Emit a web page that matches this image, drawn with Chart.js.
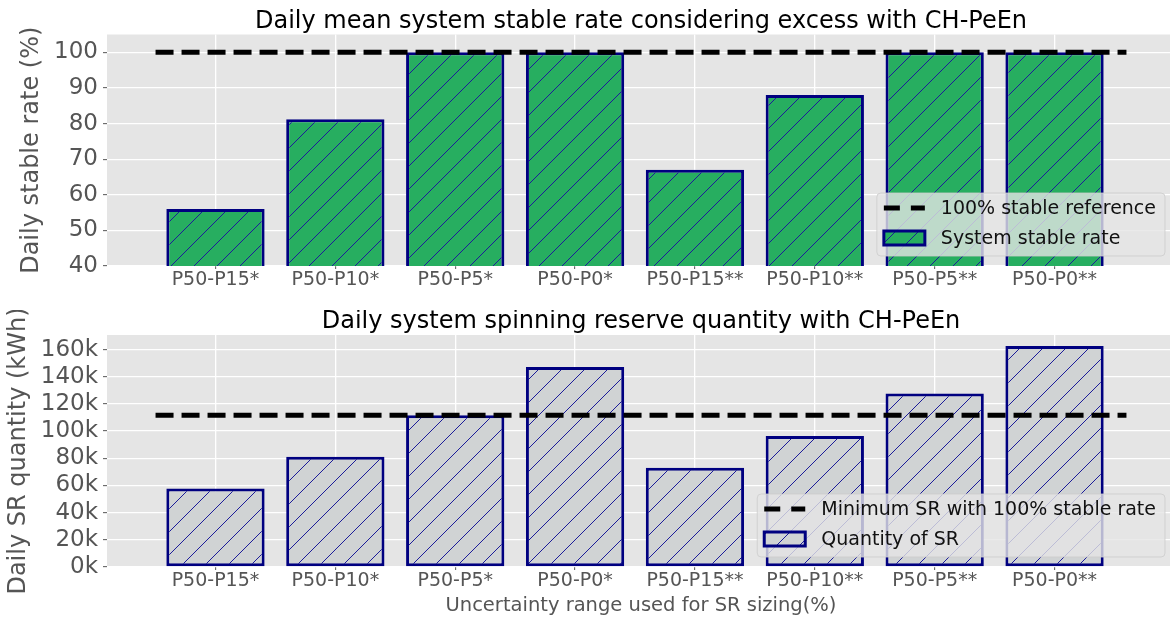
<!DOCTYPE html>
<html>
<head>
<meta charset="utf-8">
<script src="https://cdn.jsdelivr.net/npm/chart.js@4.4.1/dist/chart.umd.min.js"></script>
<style>
    html, body { margin: 0; padding: 0; background: #fff; overflow: hidden; }
    canvas { display: block; }
</style>
</head>
<body>
<canvas id="rateChart" width="1180" height="310"></canvas>
<canvas id="srChart" width="1180" height="310"></canvas>
<script>
// values
const categories = ['P50-P15*', 'P50-P10*', 'P50-P5*', 'P50-P0*', 'P50-P15**', 'P50-P10**', 'P50-P5**', 'P50-P0**'];
const stableRate = [56, 81.2, 100, 100, 67, 88, 100, 100];
const stableReference = 100;
const srQuantity = [57800, 81100, 111700, 147200, 73000, 96300, 127700, 162600];
const minSRReference = 111700;
const referenceSpan = [-0.5, 7.6];
const rateTicks = [40, 50, 60, 70, 80, 90, 100];
const srTicks = [0, 20000, 40000, 60000, 80000, 100000, 120000, 140000, 160000];

Chart.defaults.font.family = '"DejaVu Sans", sans-serif';
Chart.defaults.color = '#555555';

function hatch(fill) {
    const s = 23;
    const c = document.createElement('canvas');
    c.width = s; c.height = s;
    const g = c.getContext('2d');
    g.fillStyle = fill;
    g.fillRect(0, 0, s, s);
    g.strokeStyle = '#1c1c99';
    g.lineWidth = 1;
    g.beginPath();
    g.moveTo(0, s); g.lineTo(s, 0);
    g.moveTo(-2, 2); g.lineTo(2, -2);
    g.moveTo(s - 2, s + 2); g.lineTo(s + 2, s - 2);
    g.stroke();
    return g.createPattern(c, 'repeat');
}

const panelBackground = {
    id: 'panelBackground',
    beforeDraw(chart) {
        const a = chart.chartArea, ctx = chart.ctx;
        ctx.save();
        ctx.fillStyle = '#e5e5e5';
        ctx.fillRect(a.left, a.top, a.right - a.left, a.bottom - a.top);
        ctx.restore();
    }
};

const panelTitle = {
    id: 'panelTitle',
    afterDraw(chart) {
        const a = chart.chartArea, ctx = chart.ctx;
        ctx.save();
        ctx.font = '24px "DejaVu Sans"';
        ctx.fillStyle = '#000';
        ctx.textAlign = 'center';
        ctx.textBaseline = 'alphabetic';
        ctx.fillText(chart.config.options.panelTitle, (a.left + a.right) / 2, a.top - 7);
        ctx.restore();
    }
};

const boxLegend = {
    id: 'boxLegend',
    afterDraw(chart) {
        const a = chart.chartArea, ctx = chart.ctx;
        const items = chart.data.datasets;
        ctx.save();
        ctx.font = '19px "DejaVu Sans"';
        const textW = Math.max(...items.map(d => ctx.measureText(d.label).width));
        const w = 64 + textW + 9, h = 63;
        const x = a.right - 10 - w, y = a.bottom - 10 - h;
        ctx.beginPath();
        ctx.roundRect(x, y, w, h, 4);
        ctx.fillStyle = 'rgba(229, 229, 229, 0.8)';
        ctx.fill();
        ctx.strokeStyle = 'rgba(204, 204, 204, 0.8)';
        ctx.lineWidth = 1;
        ctx.stroke();
        items.forEach((d, i) => {
            const cy = y + 15 + i * 30;
            if (d.type === 'line') {
                ctx.setLineDash([16, 11]);
                ctx.lineWidth = d.borderWidth;
                ctx.strokeStyle = d.borderColor;
                ctx.beginPath();
                ctx.moveTo(x + 7, cy);
                ctx.lineTo(x + 48, cy);
                ctx.stroke();
                ctx.setLineDash([]);
            } else {
                ctx.fillStyle = d.backgroundColor;
                ctx.fillRect(x + 7, cy - 7, 41, 14);
                ctx.lineWidth = 3;
                ctx.strokeStyle = d.borderColor;
                ctx.strokeRect(x + 7, cy - 7, 41, 14);
            }
            ctx.fillStyle = '#111';
            ctx.textAlign = 'left';
            ctx.textBaseline = 'middle';
            ctx.fillText(d.label, x + 64, cy + 1);
        });
        ctx.restore();
    }
};

function buildChart(id, cfg) {
    const ctx = document.getElementById(id).getContext('2d');
    return new Chart(ctx, {
        type: 'bar',
        data: {
            datasets: [{
                type: 'line',
                label: cfg.refLabel,
                data: referenceSpan.map(x => ({x: x, y: cfg.refValue})),
                borderColor: '#000',
                borderWidth: 5,
                borderDash: [18, 8],
                borderCapStyle: 'butt',
                pointRadius: 0,
                fill: false
            }, {
                type: 'bar',
                label: cfg.barLabel,
                data: categories.map((c, i) => ({x: i, y: cfg.values[i]})),
                backgroundColor: hatch(cfg.fill),
                borderColor: '#000080',
                borderWidth: 3,
                borderSkipped: false,
                barPercentage: 0.82,
                categoryPercentage: 1.0
            }]
        },
        options: {
            responsive: false,
            animation: false,
            devicePixelRatio: 1,
            panelTitle: cfg.title,
            layout: {padding: {left: cfg.padLeft, right: 5, top: cfg.padTop, bottom: 0}},
            plugins: {legend: {display: false}, title: {display: false}, tooltip: {enabled: false}},
            scales: {
                x: {
                    type: 'linear',
                    min: -0.905,
                    max: 8.005,
                    offset: false,
                    afterBuildTicks: (s) => { s.ticks = categories.map((c, i) => ({value: i})); },
                    afterFit: (s) => { s.height = cfg.xHeight; },
                    grid: {color: '#ffffff', lineWidth: 1.3, offset: false, drawTicks: true, tickLength: 3, tickColor: '#555555', tickWidth: 1},
                    border: {display: false},
                    ticks: {
                        autoSkip: false, maxRotation: 0, padding: 0,
                        font: {size: 19}, color: '#555555',
                        callback: (v) => categories[v]
                    },
                    title: cfg.xTitle ? {display: true, text: cfg.xTitle, color: '#555555', font: {size: 19.5}, padding: {top: 0, bottom: 2}} : {display: false}
                },
                y: {
                    min: cfg.yMin,
                    max: cfg.yMax,
                    afterBuildTicks: (s) => { s.ticks = cfg.ticks.map(v => ({value: v})); },
                    afterFit: (s) => { s.width = 107 - cfg.padLeft; },
                    grid: {color: '#ffffff', lineWidth: 1.3, drawTicks: true, tickLength: 4, tickColor: '#555555', tickWidth: 1},
                    border: {display: false},
                    ticks: {
                        autoSkip: false, padding: 5, font: {size: 23}, color: '#555555',
                        callback: cfg.tickFormat
                    },
                    title: {display: true, text: cfg.yTitle, color: '#555555', font: {size: 24}, padding: {top: 0, bottom: 0}}
                }
            }
        },
        plugins: [panelBackground, panelTitle, boxLegend]
    });
}

buildChart('rateChart', {
    title: 'Daily mean system stable rate considering excess with CH-PeEn',
    values: stableRate,
    refValue: stableReference,
    refLabel: '100% stable reference',
    barLabel: 'System stable rate',
    fill: '#27ae60',
    yMin: 40, yMax: 105,
    ticks: rateTicks,
    tickFormat: (v) => v,
    yTitle: 'Daily stable rate (%)',
    xTitle: null,
    padLeft: 17, padTop: 34.5, xHeight: 44
});

buildChart('srChart', {
    title: 'Daily system spinning reserve quantity with CH-PeEn',
    values: srQuantity,
    refValue: minSRReference,
    refLabel: 'Minimum SR with 100% stable rate',
    barLabel: 'Quantity of SR',
    fill: '#d0d3d4',
    yMin: 0, yMax: 170700,
    ticks: srTicks,
    tickFormat: (v) => (v / 1000) + 'k',
    yTitle: 'Daily SR quantity (kWh)',
    xTitle: 'Uncertainty range used for SR sizing(%)',
    padLeft: 4, padTop: 25, xHeight: 53
});
</script>
</body>
</html>
